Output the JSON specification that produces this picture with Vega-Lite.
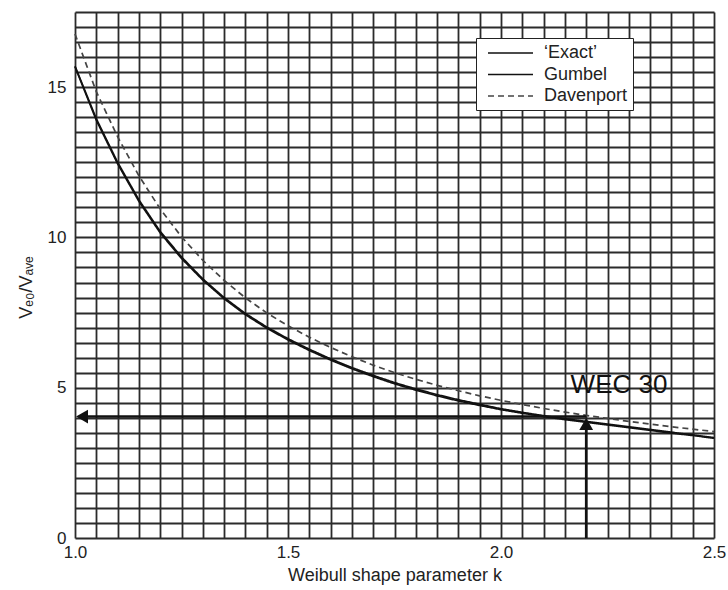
{
  "$schema": "https://vega.github.io/schema/vega-lite/v6.json",
  "autosize": "none",
  "width": 639,
  "height": 526,
  "padding": {"left": 75, "top": 12, "right": 14, "bottom": 52},
  "background": "white",
  "config": {
    "font": "Liberation Sans",
    "view": {"stroke": null},
    "axis": {
      "gridColor": "#2b2b2b",
      "gridWidth": 1.8,
      "gridOpacity": 1,
      "ticks": false,
      "domain": false,
      "labelFontSize": 17,
      "labelColor": "#222",
      "titleFontSize": 18,
      "titleFontWeight": "normal",
      "titleColor": "#222"
    },
    "legend": {
      "orient": "none",
      "legendX": 401,
      "legendY": 26,
      "fillColor": "white",
      "strokeColor": "#222",
      "padding": 5,
      "symbolType": "M-0.333,0H4.667",
      "symbolSize": 324,
      "symbolStrokeWidth": 1.5,
      "symbolFillColor": "transparent",
      "labelFontSize": 18,
      "labelColor": "#222",
      "labelOffset": 43,
      "rowPadding": 2.5
    }
  },
  "datasets": {
    "curves": [
      {"k": 1.00, "v": 15.70, "s": "‘Exact’"},
      {"k": 1.05, "v": 13.95, "s": "‘Exact’"},
      {"k": 1.10, "v": 12.50, "s": "‘Exact’"},
      {"k": 1.15, "v": 11.25, "s": "‘Exact’"},
      {"k": 1.20, "v": 10.20, "s": "‘Exact’"},
      {"k": 1.25, "v": 9.35, "s": "‘Exact’"},
      {"k": 1.30, "v": 8.62, "s": "‘Exact’"},
      {"k": 1.35, "v": 8.00, "s": "‘Exact’"},
      {"k": 1.40, "v": 7.47, "s": "‘Exact’"},
      {"k": 1.45, "v": 7.02, "s": "‘Exact’"},
      {"k": 1.50, "v": 6.63, "s": "‘Exact’"},
      {"k": 1.55, "v": 6.28, "s": "‘Exact’"},
      {"k": 1.60, "v": 5.96, "s": "‘Exact’"},
      {"k": 1.65, "v": 5.67, "s": "‘Exact’"},
      {"k": 1.70, "v": 5.41, "s": "‘Exact’"},
      {"k": 1.75, "v": 5.17, "s": "‘Exact’"},
      {"k": 1.80, "v": 4.96, "s": "‘Exact’"},
      {"k": 1.85, "v": 4.77, "s": "‘Exact’"},
      {"k": 1.90, "v": 4.60, "s": "‘Exact’"},
      {"k": 1.95, "v": 4.45, "s": "‘Exact’"},
      {"k": 2.00, "v": 4.30, "s": "‘Exact’"},
      {"k": 2.05, "v": 4.18, "s": "‘Exact’"},
      {"k": 2.10, "v": 4.07, "s": "‘Exact’"},
      {"k": 2.15, "v": 3.97, "s": "‘Exact’"},
      {"k": 2.20, "v": 3.88, "s": "‘Exact’"},
      {"k": 2.25, "v": 3.79, "s": "‘Exact’"},
      {"k": 2.30, "v": 3.70, "s": "‘Exact’"},
      {"k": 2.35, "v": 3.61, "s": "‘Exact’"},
      {"k": 2.40, "v": 3.52, "s": "‘Exact’"},
      {"k": 2.45, "v": 3.43, "s": "‘Exact’"},
      {"k": 2.50, "v": 3.34, "s": "‘Exact’"},
      {"k": 1.00, "v": 15.68, "s": "Gumbel"},
      {"k": 1.05, "v": 13.90, "s": "Gumbel"},
      {"k": 1.10, "v": 12.45, "s": "Gumbel"},
      {"k": 1.15, "v": 11.20, "s": "Gumbel"},
      {"k": 1.20, "v": 10.15, "s": "Gumbel"},
      {"k": 1.25, "v": 9.30, "s": "Gumbel"},
      {"k": 1.30, "v": 8.58, "s": "Gumbel"},
      {"k": 1.35, "v": 7.96, "s": "Gumbel"},
      {"k": 1.40, "v": 7.43, "s": "Gumbel"},
      {"k": 1.45, "v": 6.98, "s": "Gumbel"},
      {"k": 1.50, "v": 6.59, "s": "Gumbel"},
      {"k": 1.55, "v": 6.24, "s": "Gumbel"},
      {"k": 1.60, "v": 5.92, "s": "Gumbel"},
      {"k": 1.65, "v": 5.63, "s": "Gumbel"},
      {"k": 1.70, "v": 5.37, "s": "Gumbel"},
      {"k": 1.75, "v": 5.13, "s": "Gumbel"},
      {"k": 1.80, "v": 4.92, "s": "Gumbel"},
      {"k": 1.85, "v": 4.73, "s": "Gumbel"},
      {"k": 1.90, "v": 4.56, "s": "Gumbel"},
      {"k": 1.95, "v": 4.41, "s": "Gumbel"},
      {"k": 2.00, "v": 4.27, "s": "Gumbel"},
      {"k": 2.05, "v": 4.15, "s": "Gumbel"},
      {"k": 2.10, "v": 4.04, "s": "Gumbel"},
      {"k": 2.15, "v": 3.94, "s": "Gumbel"},
      {"k": 2.20, "v": 3.85, "s": "Gumbel"},
      {"k": 2.25, "v": 3.76, "s": "Gumbel"},
      {"k": 2.30, "v": 3.67, "s": "Gumbel"},
      {"k": 2.35, "v": 3.58, "s": "Gumbel"},
      {"k": 2.40, "v": 3.49, "s": "Gumbel"},
      {"k": 2.45, "v": 3.41, "s": "Gumbel"},
      {"k": 2.50, "v": 3.32, "s": "Gumbel"},
      {"k": 1.00, "v": 16.77, "s": "Davenport"},
      {"k": 1.05, "v": 14.85, "s": "Davenport"},
      {"k": 1.10, "v": 13.35, "s": "Davenport"},
      {"k": 1.15, "v": 12.05, "s": "Davenport"},
      {"k": 1.20, "v": 10.95, "s": "Davenport"},
      {"k": 1.25, "v": 10.02, "s": "Davenport"},
      {"k": 1.30, "v": 9.24, "s": "Davenport"},
      {"k": 1.35, "v": 8.57, "s": "Davenport"},
      {"k": 1.40, "v": 7.99, "s": "Davenport"},
      {"k": 1.45, "v": 7.49, "s": "Davenport"},
      {"k": 1.50, "v": 7.06, "s": "Davenport"},
      {"k": 1.55, "v": 6.68, "s": "Davenport"},
      {"k": 1.60, "v": 6.34, "s": "Davenport"},
      {"k": 1.65, "v": 6.03, "s": "Davenport"},
      {"k": 1.70, "v": 5.75, "s": "Davenport"},
      {"k": 1.75, "v": 5.50, "s": "Davenport"},
      {"k": 1.80, "v": 5.28, "s": "Davenport"},
      {"k": 1.85, "v": 5.08, "s": "Davenport"},
      {"k": 1.90, "v": 4.90, "s": "Davenport"},
      {"k": 1.95, "v": 4.73, "s": "Davenport"},
      {"k": 2.00, "v": 4.58, "s": "Davenport"},
      {"k": 2.05, "v": 4.44, "s": "Davenport"},
      {"k": 2.10, "v": 4.31, "s": "Davenport"},
      {"k": 2.15, "v": 4.19, "s": "Davenport"},
      {"k": 2.20, "v": 4.08, "s": "Davenport"},
      {"k": 2.25, "v": 3.98, "s": "Davenport"},
      {"k": 2.30, "v": 3.88, "s": "Davenport"},
      {"k": 2.35, "v": 3.79, "s": "Davenport"},
      {"k": 2.40, "v": 3.70, "s": "Davenport"},
      {"k": 2.45, "v": 3.62, "s": "Davenport"},
      {"k": 2.50, "v": 3.54, "s": "Davenport"}
    ]
  },
  "encoding": {
    "x": {
      "field": "k",
      "type": "quantitative",
      "scale": {"domain": [1.0, 2.5], "nice": false, "zero": false},
      "axis": {
        "title": "Weibull shape parameter k",
        "values": [1.0, 1.05, 1.1, 1.15, 1.2, 1.25, 1.3, 1.35, 1.4, 1.45, 1.5, 1.55, 1.6, 1.65, 1.7, 1.75, 1.8, 1.85, 1.9, 1.95, 2.0, 2.05, 2.1, 2.15, 2.2, 2.25, 2.3, 2.35, 2.4, 2.45, 2.5],
        "labelExpr": "abs(datum.value * 2 - round(datum.value * 2)) < 0.001 ? format(datum.value, '.1f') : ''",
        "labelPadding": 6,
        "titlePadding": 6,
        "labelFlush": false,
        "labelOverlap": false
      }
    },
    "y": {
      "field": "v",
      "type": "quantitative",
      "scale": {"domain": [0, 17.5], "nice": false},
      "axis": {
        "title": "Vₑ₀/Vₐᵥₑ",
        "values": [0, 0.5, 1, 1.5, 2, 2.5, 3, 3.5, 4, 4.5, 5, 5.5, 6, 6.5, 7, 7.5, 8, 8.5, 9, 9.5, 10, 10.5, 11, 11.5, 12, 12.5, 13, 13.5, 14, 14.5, 15, 15.5, 16, 16.5, 17, 17.5],
        "labelExpr": "datum.value % 5 == 0 ? format(datum.value, 'd') : ''",
        "labelPadding": 9,
        "labelFlush": false,
        "labelOverlap": false,
        "titleX": -49,
        "titleY": 275,
        "titleBaseline": "middle"
      }
    }
  },
  "layer": [
    {
      "data": {"name": "curves"},
      "mark": {"type": "line", "strokeWidth": 1.7},
      "encoding": {
        "color": {
          "field": "s",
          "type": "nominal",
          "scale": {"domain": ["‘Exact’", "Gumbel", "Davenport"], "range": ["#111111", "#111111", "#444444"]},
          "legend": {"title": null}
        },
        "strokeDash": {
          "field": "s",
          "type": "nominal",
          "scale": {"domain": ["‘Exact’", "Gumbel", "Davenport"], "range": [[1, 0], [1, 0], [6, 4]]},
          "legend": {"title": null}
        }
      }
    },
    {
      "data": {"values": [{"k": 2.2, "v": 0, "v2": 3.8}]},
      "mark": {"type": "rule", "strokeWidth": 2.6, "color": "#111"},
      "encoding": {
        "y2": {"field": "v2"}
      }
    },
    {
      "data": {"values": [{"k": 1.02, "k2": 2.2, "v": 4.04}]},
      "mark": {"type": "rule", "strokeWidth": 2.6, "color": "#111"},
      "encoding": {
        "x2": {"field": "k2"}
      }
    },
    {
      "data": {"values": [{"k": 2.2, "v": 3.79, "dir": "triangle-up"}, {"k": 1.0165, "v": 4.04, "dir": "triangle-left"}]},
      "mark": {"type": "point", "filled": true, "size": 190, "color": "#111", "opacity": 1},
      "encoding": {
        "shape": {"field": "dir", "type": "nominal", "scale": {"domain": ["triangle-up", "triangle-left"], "range": ["triangle-up", "triangle-left"]}, "legend": null}
      }
    },
    {
      "data": {"values": [{"k": 2.277, "v": 5.1, "label": "WEC 30"}]},
      "mark": {"type": "text", "fontSize": 26, "color": "#111", "align": "center", "baseline": "middle"},
      "encoding": {
        "text": {"field": "label"}
      }
    }
  ]
}
